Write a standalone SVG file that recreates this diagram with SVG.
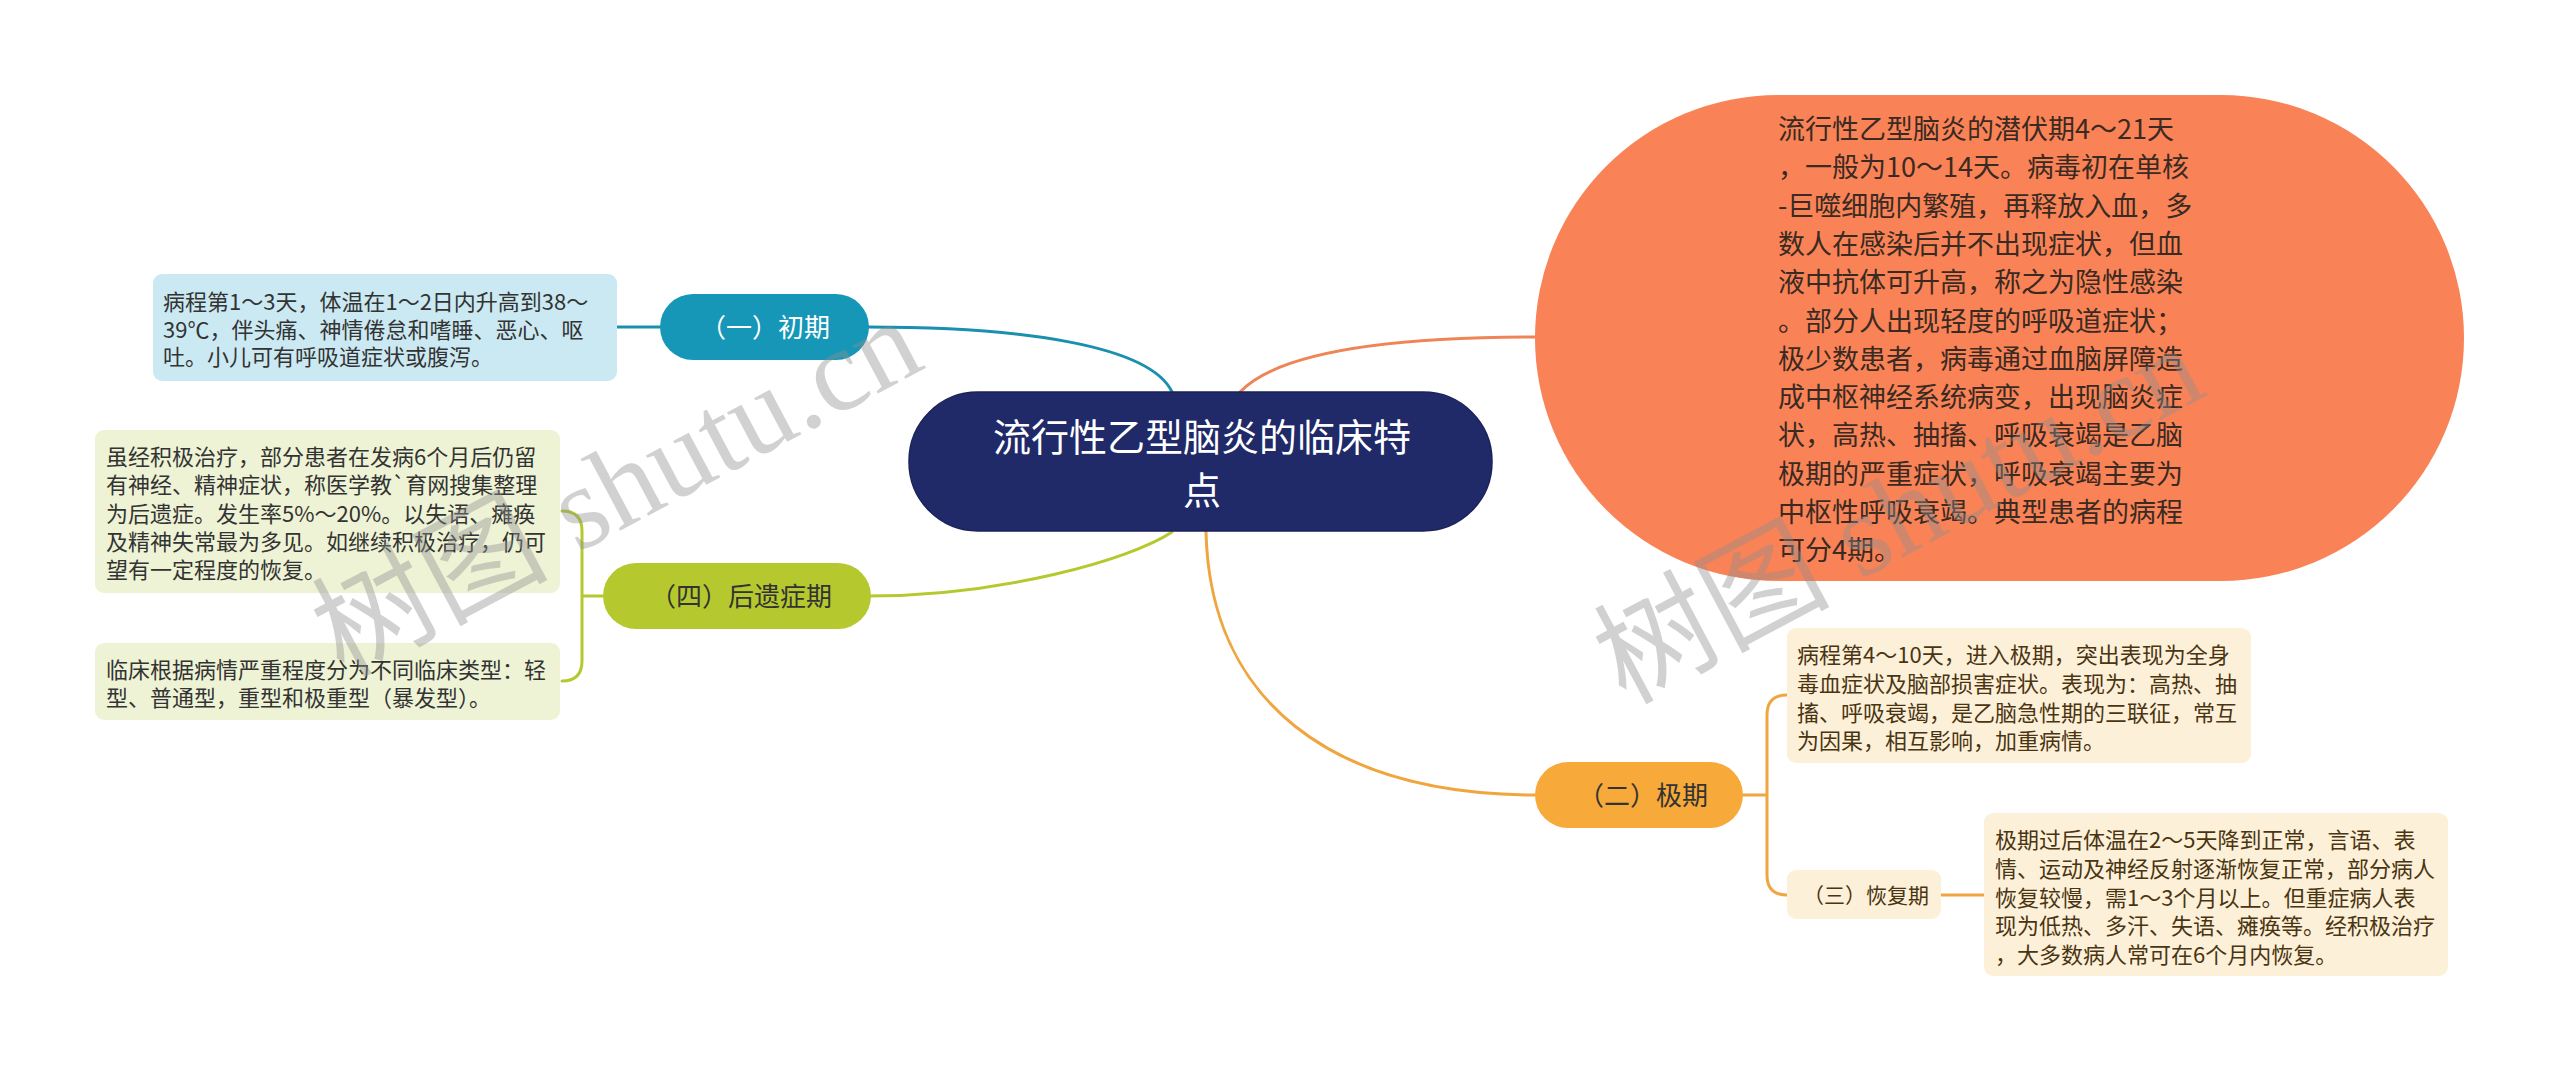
<svg xmlns="http://www.w3.org/2000/svg" width="2560" height="1072" viewBox="0 0 2560 1072">
<style>
.t{font-family:"Noto Sans CJK SC","Noto Sans",sans-serif;}
.box{font-size:22px;fill:#333333;}
.cbox{font-size:22px;fill:#4a3512;}
.lbl{font-size:26px;}
.conn{fill:none;stroke-width:3;stroke-linecap:round;}
.wm{font-family:"Liberation Serif","Noto Sans CJK SC",serif;font-size:118px;fill:#8f8f8f;opacity:0.4;}
</style>
<rect width="2560" height="1072" fill="#ffffff"/>
<g id="connectors">
<path class="conn" stroke="#1a8fae" d="M868,327 C1020,327 1150,345 1172,392"/>
<path class="conn" stroke="#1a8fae" d="M617,327 L660,327"/>
<path class="conn" stroke="#ef8457" d="M1240,392 C1280,350 1400,337 1535,337"/>
<path class="conn" stroke="#b5c92f" d="M868,596 C1000,596 1130,560 1172,532"/>
<path class="conn" stroke="#b5c92f" d="M603,596 L582,596 M562,511 Q582,511 582,531 L582,661 Q582,681 562,681"/>
<path class="conn" stroke="#f0a63e" d="M1206,532 C1210,700 1330,795 1537,795"/>
<path class="conn" stroke="#f0a63e" d="M1743,795 L1767,795 M1787,695 Q1767,695 1767,715 L1767,875 Q1767,895 1787,895"/>
<path class="conn" stroke="#f0a63e" d="M1941,895 L1984,895"/>
</g>
<g id="root">
<rect x="909" y="392" width="583" height="139" rx="69" fill="#202a69" stroke="#1a2258" stroke-width="1.5"/>
<text class="t" font-size="38" fill="#ffffff" text-anchor="middle"><tspan x="1202" y="451">流行性乙型脑炎的临床特</tspan><tspan x="1202" y="504">点</tspan></text>
</g>
<g id="overview">
<rect x="1535" y="95" width="929" height="486" rx="243" fill="#f98357"/>
<text class="t" font-size="27" fill="#3a2a22">
<tspan x="1778" y="139">流行性乙型脑炎的潜伏期4～21天</tspan>
<tspan x="1778" y="177.3">，一般为10～14天。病毒初在单核</tspan>
<tspan x="1778" y="215.6">-巨噬细胞内繁殖，再释放入血，多</tspan>
<tspan x="1778" y="253.9">数人在感染后并不出现症状，但血</tspan>
<tspan x="1778" y="292.2">液中抗体可升高，称之为隐性感染</tspan>
<tspan x="1778" y="330.5">。部分人出现轻度的呼吸道症状；</tspan>
<tspan x="1778" y="368.8">极少数患者，病毒通过血脑屏障造</tspan>
<tspan x="1778" y="407.1">成中枢神经系统病变，出现脑炎症</tspan>
<tspan x="1778" y="445.4">状，高热、抽搐、呼吸衰竭是乙脑</tspan>
<tspan x="1778" y="483.7">极期的严重症状，呼吸衰竭主要为</tspan>
<tspan x="1778" y="522">中枢性呼吸衰竭。典型患者的病程</tspan>
<tspan x="1778" y="560.3">可分4期。</tspan>
</text>
</g>
<g id="stage1">
<rect x="660" y="294" width="209" height="66" rx="33" fill="#1797b8"/>
<text class="t lbl" fill="#ffffff" x="765" y="337" text-anchor="middle">（一）初期</text>
</g>
<g id="stage1-detail">
<rect x="153" y="274" width="464" height="107" rx="9" fill="#cbe9f2"/>
<text class="t box">
<tspan x="163" y="310">病程第1～3天，体温在1～2日内升高到38～</tspan>
<tspan x="163" y="337.5">39℃，伴头痛、神情倦怠和嗜睡、恶心、呕</tspan>
<tspan x="163" y="365">吐。小儿可有呼吸道症状或腹泻。</tspan>
</text>
</g>
<g id="stage4">
<rect x="603" y="563" width="268" height="66" rx="33" fill="#b5c92f"/>
<text class="t lbl" fill="#333333" x="741" y="606" text-anchor="middle">（四）后遗症期</text>
</g>
<g id="stage4-detail1">
<rect x="95" y="430" width="465" height="163" rx="9" fill="#eef3d5"/>
<text class="t box">
<tspan x="106" y="465">虽经积极治疗，部分患者在发病6个月后仍留</tspan>
<tspan x="106" y="493.3">有神经、精神症状，称医学教`育网搜集整理</tspan>
<tspan x="106" y="521.6">为后遗症。发生率5%～20%。以失语、瘫痪</tspan>
<tspan x="106" y="550">及精神失常最为多见。如继续积极治疗，仍可</tspan>
<tspan x="106" y="578.3">望有一定程度的恢复。</tspan>
</text>
</g>
<g id="stage4-detail2">
<rect x="95" y="643" width="465" height="77" rx="9" fill="#eef3d5"/>
<text class="t box">
<tspan x="106" y="678">临床根据病情严重程度分为不同临床类型：轻</tspan>
<tspan x="106" y="706">型、普通型，重型和极重型（暴发型）。</tspan>
</text>
</g>
<g id="stage2">
<rect x="1535" y="762" width="208" height="66" rx="33" fill="#f7a93a"/>
<text class="t lbl" fill="#333333" x="1643" y="805" text-anchor="middle">（二）极期</text>
</g>
<g id="stage2-detail">
<rect x="1787" y="628" width="464" height="135" rx="9" fill="#fdf0d9"/>
<text class="t cbox">
<tspan x="1797" y="663">病程第4～10天，进入极期，突出表现为全身</tspan>
<tspan x="1797" y="692">毒血症状及脑部损害症状。表现为：高热、抽</tspan>
<tspan x="1797" y="721">搐、呼吸衰竭，是乙脑急性期的三联征，常互</tspan>
<tspan x="1797" y="749">为因果，相互影响，加重病情。</tspan>
</text>
</g>
<g id="stage3">
<rect x="1787" y="870" width="154" height="49" rx="9" fill="#fdf0d9"/>
<text class="t" font-size="21" fill="#4a3512" x="1866" y="903" text-anchor="middle">（三）恢复期</text>
</g>
<g id="stage3-detail">
<rect x="1984" y="813" width="464" height="163" rx="9" fill="#fdf0d9"/>
<text class="t cbox">
<tspan x="1995" y="848">极期过后体温在2～5天降到正常，言语、表</tspan>
<tspan x="1995" y="877">情、运动及神经反射逐渐恢复正常，部分病人</tspan>
<tspan x="1995" y="906">恢复较慢，需1～3个月以上。但重症病人表</tspan>
<tspan x="1995" y="934">现为低热、多汗、失语、瘫痪等。经积极治疗</tspan>
<tspan x="1995" y="963">，大多数病人常可在6个月内恢复。</tspan>
</text>
</g>
<g id="watermarks">
<text class="wm" transform="translate(343,678) rotate(-28)">树图 shutu.cn</text>
<text class="wm" transform="translate(1625,705) rotate(-28)">树图 shutu.cn</text>
</g>
</svg>
